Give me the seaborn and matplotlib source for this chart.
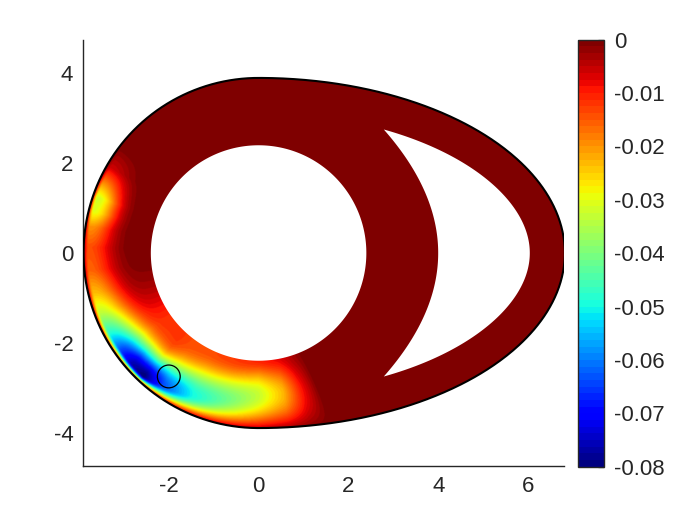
import numpy as np
import pandas as pd
import matplotlib
matplotlib.use("Agg")
import matplotlib.pyplot as plt
import seaborn as sns
from matplotlib.path import Path
from matplotlib.patches import PathPatch
from matplotlib.colors import Normalize
import matplotlib.colorbar as mcolorbar

# ---------------- data ----------------
# domain geometry
outer_left_radius = 3.9        # left half of the outer wall (circle)
outer_right_semi_x = 6.82      # right half of the outer wall (ellipse)
outer_semi_y = 3.9
hole_circle_radius = 2.4       # circular hole centred at origin
crescent_offset = 0.78         # crescent right edge: outer wall offset inward
crescent_left_x0 = 4.0         # crescent left edge x at y = 0
crescent_left_curv = 0.16      # crescent left edge bending

# field along the angular coordinate (degrees, measured from +x axis)
theta_deg  = [142, 150, 156, 161, 166, 171, 178, 186, 194, 201, 208, 215, 221, 227, 234, 245, 258, 270, 280, 287, 294]
amp_min    = [0.0, -0.006, -0.020, -0.032, -0.030, -0.020, -0.014, -0.016, -0.024, -0.034, -0.048, -0.064,
              -0.076, -0.080, -0.064, -0.050, -0.041, -0.033, -0.023, -0.010, 0.0]
peak_pos   = [0.93, 0.93, 0.93, 0.93, 0.93, 0.93, 0.93, 0.93, 0.92, 0.92, 0.91, 0.90, 0.90, 0.90, 0.84, 0.74,
              0.62, 0.52, 0.50, 0.50, 0.50]
inner_frac = [0.0, 0.0, 0.0, 0.0, 0.0, 0.0, 0.0, 0.04, 0.10, 0.15, 0.18, 0.18, 0.16, 0.15, 0.22, 0.28, 0.30,
              0.32, 0.35, 0.40, 0.40]
rise_pow   = [6.0, 6.0, 6.0, 6.0, 6.0, 6.0, 5.5, 5.0, 4.5, 4.0, 3.8, 3.8, 4.2, 4.5, 3.2, 2.3, 2.0, 1.5, 1.5,
              1.5, 1.5]
outer_frac = [0.05, 0.05, 0.05, 0.05, 0.05, 0.05, 0.05, 0.05, 0.05, 0.05, 0.05, 0.05, 0.05, 0.05, 0.08, 0.10,
              0.12, 0.15, 0.15, 0.15, 0.15]

marker_xy = (-2.0, -2.75)

xticks = [-2, 0, 2, 4, 6]
yticks = [-4, -2, 0, 2, 4]
cbar_ticks = [0, -0.01, -0.02, -0.03, -0.04, -0.05, -0.06, -0.07, -0.08]
cbar_labels = ["0", "-0.01", "-0.02", "-0.03", "-0.04", "-0.05", "-0.06", "-0.07", "-0.08"]
vmin, vmax = -0.08, 0.0

# ---------------- style ----------------
sns.set_style("white")
plt.rcParams["font.family"] = ["Liberation Sans", "DejaVu Sans"]
plt.rcParams["axes.unicode_minus"] = False
txt_color = "#262626"

fig = plt.figure(figsize=(7, 5.25), dpi=100)
ax = fig.add_axes([0.1186, 0.1124, 0.687, 0.8114])

# ---------------- geometry ----------------
def outer_radius(theta):
    c, s = np.cos(theta), np.sin(theta)
    r_ell = 1.0 / np.sqrt((c / outer_right_semi_x) ** 2 + (s / outer_semi_y) ** 2)
    return np.where(c < 0, outer_left_radius, r_ell)

t = np.linspace(0, 2 * np.pi, 721)
ro = outer_radius(t)
ox, oy = ro * np.cos(t), ro * np.sin(t)

# circle hole (clockwise)
ch_x = hole_circle_radius * np.cos(-t)
ch_y = hole_circle_radius * np.sin(-t)

# crescent hole
tt = np.linspace(-np.pi / 2, np.pi / 2, 2001)
ex, ey = outer_right_semi_x * np.cos(tt), outer_semi_y * np.sin(tt)
nx_, ny_ = np.cos(tt) / outer_right_semi_x, np.sin(tt) / outer_semi_y
nn = np.hypot(nx_, ny_)
rx = ex - crescent_offset * nx_ / nn
ry = ey - crescent_offset * ny_ / nn
keep = rx > crescent_left_x0 - crescent_left_curv * ry ** 2
rx, ry = rx[keep], ry[keep]          # bottom -> top
ly = np.linspace(ry[-1], ry[0], 200)  # left edge top -> bottom
lx = crescent_left_x0 - crescent_left_curv * ly ** 2
cr_x = np.concatenate([rx, lx])[::-1]
cr_y = np.concatenate([ry, ly])[::-1]

def ring(xs, ys):
    verts = np.column_stack([xs, ys])
    verts = np.vstack([verts, verts[:1]])
    codes = np.full(len(verts), Path.LINETO)
    codes[0] = Path.MOVETO
    codes[-1] = Path.CLOSEPOLY
    return verts, codes

parts = [ring(ox, oy), ring(ch_x, ch_y), ring(cr_x, cr_y)]
dom_path = Path(np.vstack([p[0] for p in parts]), np.concatenate([p[1] for p in parts]))
clip_patch = PathPatch(dom_path, transform=ax.transData, facecolor="none", edgecolor="none")

# ---------------- field ----------------
xg = np.linspace(-4.0, 6.9, 1100)
yg = np.linspace(-4.0, 4.0, 820)
X, Y = np.meshgrid(xg, yg)
R = np.hypot(X, Y)
TH = np.arctan2(Y, X)
THd = np.degrees(TH) % 360
Ro = outer_radius(TH)
S = np.clip((R - hole_circle_radius) / (Ro - hole_circle_radius), 0, 1)
A = np.interp(THd, theta_deg, amp_min, left=0.0, right=0.0)
SP = np.interp(THd, theta_deg, peak_pos)
CI = np.interp(THd, theta_deg, inner_frac)
PR = np.interp(THd, theta_deg, rise_pow)
CO = np.interp(THd, theta_deg, outer_frac)
U = np.clip(S / SP, 0, 1)
Vv = np.clip((S - SP) / (1 - SP), 0, 1)
inner = CI + (1 - CI) * np.sin(np.pi / 2 * U) ** PR
outer = CO + (1 - CO) * np.cos(np.pi / 2 * Vv)
G = np.where(S < SP, inner, outer)
F = A * G

cmap = plt.get_cmap("jet").resampled(64)
im = ax.imshow(F, extent=[xg[0], xg[-1], yg[0], yg[-1]], origin="lower", cmap=cmap,
               vmin=vmin, vmax=vmax, interpolation="bilinear", aspect="auto", zorder=1)
im.set_clip_path(clip_patch)

# outer wall line
wall = pd.DataFrame({"x": ox, "y": oy})
sns.lineplot(data=wall, x="x", y="y", sort=False, estimator=None, color="black",
             linewidth=1.5, ax=ax, zorder=3)

# marker
mk = pd.DataFrame({"x": [marker_xy[0]], "y": [marker_xy[1]]})
sns.scatterplot(data=mk, x="x", y="y", s=270, facecolors="none", edgecolor="black",
                linewidth=0.9, ax=ax, zorder=4)

ax.set_xlim(-3.91, 6.8)
ax.set_ylim(-4.745, 4.745)
ax.set_xticks(xticks)
ax.set_yticks(yticks)
ax.set_xticklabels([str(v) for v in xticks])
ax.set_yticklabels([str(v) for v in yticks])
ax.set_xlabel("")
ax.set_ylabel("")
for side in ["top", "right"]:
    ax.spines[side].set_visible(False)
for side in ["left", "bottom"]:
    ax.spines[side].set_color(txt_color)
    ax.spines[side].set_linewidth(1.0)
ax.tick_params(direction="in", length=4, width=0.9, colors=txt_color, labelsize=16, pad=7)
ax.patch.set_alpha(0)

# colorbar
cax = fig.add_axes([0.826, 0.111, 0.0371, 0.8137])
cb = mcolorbar.ColorbarBase(cax, cmap=cmap, norm=Normalize(vmin=vmin, vmax=vmax), orientation="vertical")
cb.set_ticks(cbar_ticks)
cb.set_ticklabels(cbar_labels)
cb.outline.set_edgecolor(txt_color)
cb.outline.set_linewidth(1.0)
cax.tick_params(direction="in", length=4, width=0.9, colors=txt_color, labelsize=16, pad=7)

fig.savefig("out.png", dpi=100)
